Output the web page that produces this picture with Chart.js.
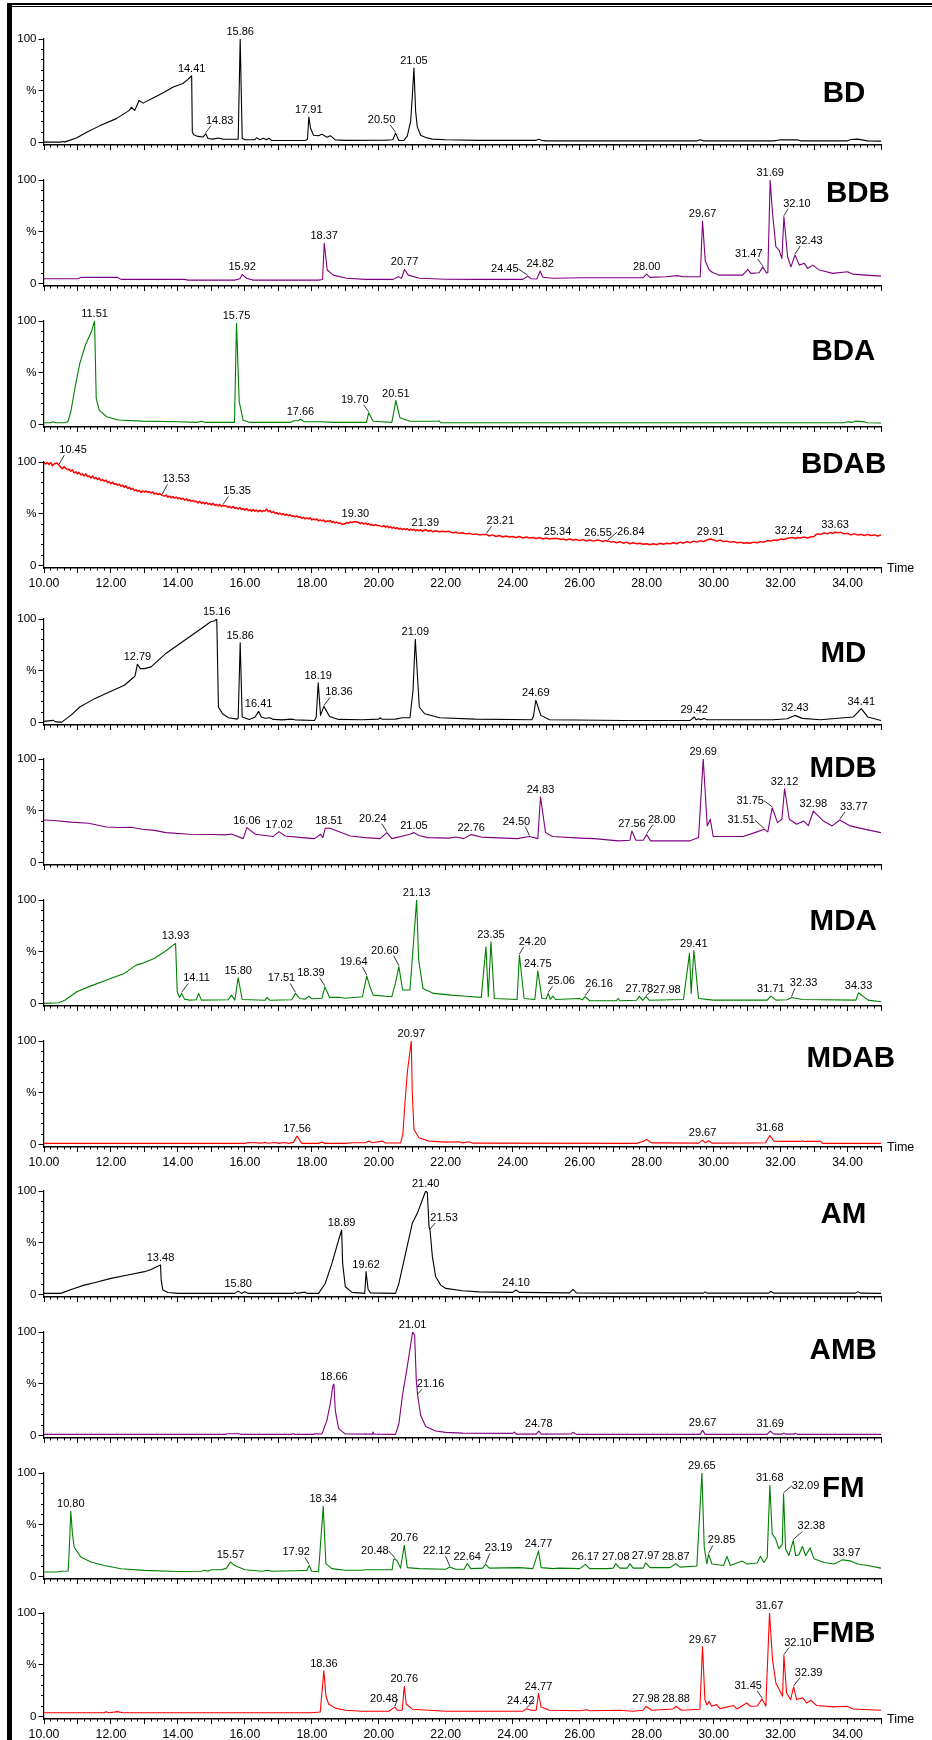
<!DOCTYPE html>
<html>
<head>
<meta charset="utf-8">
<script src="https://cdn.jsdelivr.net/npm/chart.js@4.4.1/dist/chart.umd.min.js"></script>
<style>
  body { margin: 0; background: #fff; width: 932px; height: 1740px; position: relative; overflow: hidden; }
  canvas { position: absolute; left: 0; }
  .rule { position: absolute; background: #000; }
</style>
</head>
<body>
<div class="rule" style="left:7px;top:3px;width:925px;height:2.2px"></div>
<div class="rule" style="left:11px;top:6.3px;width:921px;height:1.2px"></div>
<div class="rule" style="left:7px;top:3px;width:4.5px;height:1737px"></div>
<script>
'use strict';

/* Stacked chromatograms (BD ... FMB), one Chart.js line chart per trace. */

// ---------------------------------------------------------------- data
// [retention time (min), relative intensity (%)]; labelled peaks are kept apart
// and merged into their trace before plotting.
const BD_TRACE = [[10,0.3],[10.5,0.3],[10.55,1],[10.6,0.3],[10.67,1],[10.97,4.2],[11.29,10],[11.66,16],[12.16,23],[12.55,31],[12.61,34],[12.71,31],[12.84,40.6],[12.96,38],[13.26,43],[13.56,48],[13.86,53.5],[14.15,57],[14.3,61],
  [14.43,10],[14.47,7.4],[14.6,5.8],[14.75,5.2],[14.9,3.8],[15.05,3.2],[15.2,4.2],[15.35,3],[15.8,3],[15.92,4],[16,2.6],[16.3,2.6],[16.35,4.5],[16.45,2.6],[16.55,4],[16.65,2.6],[16.72,4],[16.8,2],[17.8,1.8],[17.87,3],
  [17.96,14],[18.05,7],[18.2,6.5],[18.3,8],[18.45,5],[18.55,6.5],[18.7,2.5],[19,2],[20.2,2.2],[20.42,2.6],[20.6,1.9],[20.75,1.9],[20.85,6],[20.95,20],[21,44],
  [21.1,30],[21.15,15],[21.25,7],[21.4,4.8],[21.6,3.2],[22,2.6],[23,2],[24.7,2],[24.78,3],[24.86,2],[25,1.5],[29.5,1.5],[29.6,2.5],[29.7,1.5],[31.8,1.5],[32,2.5],[32.5,2.5],[32.6,1.5],[34,1.5],[34.1,2.8],[34.3,3.2],[34.6,1.5],[35,1.2]];
const BD_PEAKS = [[14.41,64.5],[14.83,8.4],[15.86,100],[17.91,24.5],[20.50,9],[21.05,72]];

const BDB_TRACE = [[10,4.5],[11,4.5],[11.1,5.8],[12.2,5.8],[12.3,3.9],[14.2,3.9],[14.3,3.2],[15.7,3.2],[15.85,4.5],[16.05,5],[16.25,3.2],[18.2,3.2],[18.32,3.8],
  [18.46,13],[18.64,8],[19.04,5],[19.6,3.9],[20.43,3.9],[20.58,6.5],[20.68,5],[20.88,8],[21.22,5],[22,4],[23,3.9],[24.3,3.9],[24.55,4.5],[24.72,4.2],
  [24.9,6],[25.2,5],[26.1,5.5],[27.9,5.5],[28.1,5.8],[28.57,6.5],[28.92,7.5],[29.1,6.5],[29.6,6.5],[29.75,22],[29.87,13],[29.97,10.5],[30.17,8],[30.87,8],[31.02,13.5],[31.11,9.7],[31.36,10.3],
  [31.58,10],[31.62,10.5],[31.76,68],[31.86,35.5],[31.96,32],[32.04,24],[32.21,25.8],[32.31,16],[32.56,17.7],[32.71,19.4],[32.81,14.5],[32.96,17.7],[33.16,12.9],[33.56,9.7],[34,11.3],[34.15,9],[34.55,8],[35,7]];
const BDB_PEAKS = [[15.92,8.7],[18.37,38.7],[20.77,13.5],[24.45,7],[24.82,12],[28.00,9],[29.67,60],[31.47,16],[31.69,100],[32.10,64.5],[32.43,27.4]];

const BDA_TRACE = [[10,1.6],[10.2,1.6],[10.27,2.6],[10.35,1.6],[10.6,1.6],[10.71,2.6],[10.8,12],[10.94,38],[11.07,59],[11.24,77],[11.42,90],
  [11.56,25],[11.65,13.9],[11.87,7.4],[12.22,4.2],[12.93,3.2],[14,2.6],[14.6,2],[14.7,3],[14.8,2],[15.69,2],[15.83,22],[15.95,4],[16.13,2],[17.37,2],[17.46,3.5],[17.6,3.5],
  [17.75,3],[17.82,2.6],[18.26,2.6],[18.62,2],[19.63,2],[19.83,3],[20.39,2],[20.63,6.5],[20.93,3],[21.75,3],[21.8,3.5],[21.85,1.6],[33.9,1.6],[34,2.5],[34.15,2],[34.25,3.2],[34.5,2.5],[34.6,1.6],[35,1.3]];
const BDA_PEAKS = [[11.51,100],[15.75,97.7],[17.66,5.2],[19.70,11.3],[20.51,23]];

const BDAB_TRACE = [[10,100],[10.05,98],[10.1,99.5],[10.15,97.5],[10.2,99.5],[10.25,96.5],[10.3,98],[10.38,99],[10.5,95],[10.55,93.5],[10.6,95.5],[10.65,94],[10.7,92.5],[10.75,93],[10.8,91],[10.85,92.5],[10.9,89.5],[10.95,90.5],[11.0,88.5],[11.05,90],[11.1,87.5],[11.15,88.5],[11.2,86.5],[11.25,88.5],[11.3,86],[11.35,86.5],[11.4,84.5],[11.45,86.5],[11.5,84],[11.55,85],[11.6,83],[11.65,84.5],[11.7,82],[11.75,83],[11.8,81.5],[11.85,82.5],[11.9,80],[11.95,81],
  [12.0,79],[12.05,80.5],[12.1,78.5],[12.15,79],[12.2,77.5],[12.25,78.5],[12.3,76.5],[12.35,77.5],[12.4,75.5],[12.45,77],[12.5,74.5],[12.55,75.5],[12.6,73.5],[12.65,74.5],[12.7,72.5],[12.75,73],[12.8,71.5],[12.85,72.5],[12.9,70.5],[12.95,72],[13.0,71],[13.05,72],[13.1,70.5],[13.15,71.5],[13.2,70],[13.25,71],[13.3,69],[13.35,70],[13.4,68.5],[13.45,69.5],[13.6,67],[13.65,68],[13.7,66],[13.75,67],[13.8,65.5],[13.85,66.5],[13.9,65],[13.95,66],
  [14.0,64.5],[14.05,65.5],[14.1,64],[14.15,65],[14.2,63],[14.25,64.5],[14.3,62.5],[14.35,63.5],[14.4,62],[14.45,63],[14.5,61.5],[14.55,62],[14.6,60.5],[14.65,62],[14.7,60],[14.75,61],[14.8,59.5],[14.85,61],[14.9,59],[14.95,60],[15.0,58.5],[15.05,60],[15.1,58],[15.15,59],[15.2,57.5],[15.25,59],[15.3,57],[15.45,57.5],[15.5,56],[15.55,57],[15.6,55.5],[15.65,57],[15.7,55],[15.75,56],[15.8,54.5],[15.85,56],[15.9,54],[15.95,55],
  [16.0,53.5],[16.05,55],[16.1,53],[16.15,54],[16.2,52.5],[16.25,54],[16.3,52.5],[16.35,53.5],[16.4,52],[16.45,53.5],[16.5,52],[16.55,53],[16.6,52.5],[16.65,54.5],[16.7,52],[16.75,53],[16.8,51],[16.85,52],[16.9,50.5],[16.95,51],[17.0,49.5],[17.05,50.5],[17.1,49],[17.15,50],[17.2,48.5],[17.25,49.5],[17.3,48],[17.35,49],[17.4,47.5],[17.45,48],[17.5,47],[17.55,48],[17.6,46.5],[17.65,47],[17.7,45.5],[17.75,46.5],[17.8,45],[17.85,46],[17.9,45],[17.95,46],
  [18.0,44],[18.05,45],[18.1,44],[18.15,45],[18.2,43],[18.25,44],[18.3,43],[18.35,44],[18.4,42],[18.45,43],[18.5,42.5],[18.55,43.5],[18.6,41.5],[18.65,42.5],[18.7,41],[18.75,42],[18.8,40.5],[18.85,41],[18.9,39.5],[18.95,40],[19.0,40.5],[19.05,41.5],[19.1,41],[19.15,42],[19.2,41.5],[19.4,41.5],[19.45,40.5],[19.5,41.5],[19.55,40],[19.6,41],[19.65,39.5],[19.7,40.5],[19.75,39],[19.8,39.5],[19.85,38.5],[19.9,39.5],[19.95,38.5],
  [20.0,38.5],[20.1,37.5],[20.15,38.5],[20.2,37],[20.25,38],[20.3,36.5],[20.35,37.5],[20.4,36],[20.45,37],[20.5,35.5],[20.55,36.5],[20.6,35],[20.65,36],[20.7,34.5],[20.75,35.5],[20.8,34.5],[20.85,35.5],[20.9,34],[20.95,35],[21.0,34],[21.05,35],[21.1,33.5],[21.15,34.5],[21.2,33.5],[21.25,34.5],[21.3,33],[21.5,33],[21.55,34],[21.6,32.5],[21.7,33.5],[21.8,32.5],[21.9,33],[22.0,32.5],[22.1,33],[22.2,31.5],[22.3,32],[22.4,31],[22.5,31.5],[22.6,30.5],[22.7,31],[22.8,30],[22.9,30.5],[23.0,29.5],[23.1,30],
  [23.3,28.5],[23.4,29.5],[23.5,28],[23.6,29],[23.7,27.5],[23.8,28.5],[23.9,27.5],[24.0,28],[24.1,27],[24.2,28],[24.3,26.5],[24.4,27.5],[24.5,26.5],[24.6,27],[24.7,26],[24.8,27],[24.9,25.5],[25.0,26.5],[25.1,25.5],[25.2,26],[25.45,25],[25.5,25.5],[25.6,24.5],[25.7,25.5],[25.8,24.5],[25.9,25],[26.0,24],[26.1,25],[26.2,23.5],[26.3,24.5],[26.4,23.5],[26.7,23],[26.75,24],[26.95,22.5],[27.0,23],[27.1,22],[27.2,23],[27.3,21.5],[27.4,22.5],[27.5,21],[27.6,22],[27.7,21],[27.8,21.5],[27.9,20.5],
  [28.0,21],[28.1,20],[28.2,21],[28.3,20],[28.4,21.5],[28.5,20.5],[28.6,21.5],[28.7,21],[28.8,22],[28.9,21],[29.0,22.5],[29.1,21.5],[29.2,23],[29.3,22],[29.4,23.5],[29.5,22.5],[29.6,24],[29.7,23],[29.8,24.5],[30.0,24.5],[30.1,23.5],[30.2,24.5],[30.3,23],[30.4,23.5],[30.5,22.5],[30.6,23],[30.7,22],[30.8,22.5],[30.9,21.5],[31.0,22],[31.1,21.5],[31.2,22.5],[31.3,22],[31.4,23],[31.5,22.5],[31.6,24],[31.7,23.5],[31.8,24.5],[31.9,24],[32.0,25.5],[32.1,25],
  [32.35,27],[32.45,26],[32.5,27],[32.6,26.5],[32.7,27.5],[32.8,26.5],[32.9,27.5],[33.0,28],[33.05,29.5],[33.1,30.5],[33.2,30],[33.3,31.5],[33.4,30.5],[33.5,32],[33.55,31],[33.7,31.5],[33.8,32],[33.9,30.5],[34.0,31],[34.1,29.5],[34.2,30.5],[34.3,29.5],[34.4,30],[34.5,29],[34.6,30],[34.7,29],[34.8,29.5],[34.9,28.5],[35,29.5]];
const BDAB_PEAKS = [[10.45,97],[13.53,67.7],[15.35,58],[19.30,42.5],[21.39,34.5],[23.21,30],[25.34,26],[26.55,24.5],[26.84,23.5],[29.91,25.5],[32.24,26.5],[33.63,32]];

const MD_TRACE = [[10,1],[10.27,2],[10.35,0.5],[10.53,0.3],[10.8,6.8],[11.07,14.9],[11.51,23],[11.95,29.4],[12.4,35.9],[12.67,43.4],[12.72,45],
  [12.88,52],[13,52],[13.2,53.7],[13.64,66.7],[14,74.8],[14.35,82.8],[14.71,91],[14.98,97.4],[15.08,98],
  [15.21,14.9],[15.33,8.4],[15.51,4.5],[15.77,3.2],[15.8,4],[15.92,5.2],[16.13,2.9],[16.3,5],[16.49,5.2],[16.6,4],[16.75,4.5],[16.85,2.9],[17.1,2.5],[17.4,3.2],[17.5,2.5],[18.08,1.9],[18.13,5],
  [18.26,6.8],[18.53,5.8],[18.8,2.9],[19.5,2.6],[20,3.2],[20.04,4.5],[20.1,3],[20.5,3.2],[20.7,4.5],[20.93,4.5],[21.02,30],
  [21.21,14.9],[21.37,8.4],[21.82,4.5],[22.88,3.2],[24.57,2.6],[24.62,6],[24.84,6.8],[25.1,2.6],[27.32,1.9],[29.3,1.9],
  [29.48,2.5],[29.55,3.5],[29.62,2.6],[29.72,3.9],[29.8,2.6],[31.77,2.6],[32.2,3.5],[32.65,3.9],[33.19,2.6],[34.17,5.2],[34.61,5.2],[35,1.9]];
const MD_PEAKS = [[12.79,56.3],[15.16,100],[15.86,77],[16.41,10.7],[18.19,38.2],[18.36,15.5],[21.09,80.3],[24.69,21.4],[29.42,5.2],[32.43,6.8],[34.41,13.3]];

const MDB_TRACE = [[10,41],[10.3,40.5],[10.8,39],[11.33,37.8],[11.87,34.3],[12.22,33.7],[12.6,34],[12.93,32],[13.3,31],[13.64,28.8],[14.35,27.2],[15,27],[15.42,26.6],[15.6,27.5],[15.95,23],
  [16.31,27.2],[16.84,25],[17.2,25.6],[17.7,24],[18.08,23],[18.26,27.2],[18.33,24],[18.4,33],[18.62,32],[19.15,25.6],[19.6,24],[20.04,23],[20.39,23],[20.93,27.2],
  [21.2,26],[21.46,24],[22.1,23.5],[22.3,24.5],[22.53,23],[23.06,24.5],[23.4,24],[24.13,23],[24.75,23],[24.98,28.8],[25.19,25],[26,23.5],[26.44,23],[27.15,20.8],[27.5,21.5],
  [27.68,21.5],[27.9,21.5],[28.12,20.8],[29.28,20.8],[29.55,24],[29.81,35.3],[29.9,41.7],[29.99,25],[30.34,25],[30.88,25],[31.23,28.8],[31.62,29.5],[31.91,38.5],[32.04,41.7],
  [32.26,41.7],[32.48,36.9],[32.69,40],[32.83,35.5],[33.28,40],[33.54,35.3],[34.08,35.3],[34.43,32.7],[35,28.8]];
const MDB_PEAKS = [[16.06,33.7],[17.02,29.8],[18.51,33.3],[20.24,28.8],[21.05,28.8],[22.76,26.9],[24.50,25],[24.83,63.5],[27.56,30.4],[28.00,26.9],[29.69,100],[31.51,32],[31.75,52.9],[32.12,71.2],[32.98,49.7],[33.77,41]];

const MDA_TRACE = [[10,0],[10.44,0.6],[10.62,3],[10.98,11.3],[11.33,16],[11.87,22.6],[12.4,29],[12.75,37],[12.93,38.7],[13.29,43.5],[13.6,50],
  [13.98,11.3],[14.05,5.8],[14.2,4],[14.35,3.2],[14.55,3.5],[14.62,9.7],[14.7,3.2],[15.5,3.5],[15.6,8],[15.7,3.2],[15.92,3.8],[16.6,3],[16.66,5.8],[16.75,3],[17.4,3.5],
  [17.64,4.8],[17.8,4],[17.91,7],[18,4.5],[18.3,5],[18.53,5.8],[18.8,6],[19,5],[19.51,6.5],[19.72,17.7],[19.83,8],[20.39,6.5],[20.5,20],
  [20.71,13],[20.93,13],[21.02,51.6],[21.19,42],[21.32,14.5],[21.64,9.7],[22.17,8],[22.6,7],[23.06,5.8],[23.2,54.8],[23.27,6.5],[23.45,4.8],[24.13,3.8],
  [24.34,4.8],[24.66,3.8],[24.87,4.8],[25,4.5],[25.12,4],[25.2,7],[25.28,3.8],[25.99,4.8],[26.08,3.5],[26.3,2.6],[26.44,2.6],[27.1,2.6],[27.15,5],[27.2,2.6],[27.7,3],
  [27.88,3],[28.08,3],[29.1,3.8],[29.28,48.4],[29.33,9.7],[29.55,4.8],[29.99,3.2],[31.6,3.2],[31.86,3.2],[32.2,3.5],[32.65,3.8],[34.25,3.2],[34.61,3.2],[35,1.6]];
const MDA_PEAKS = [[13.93,58],[14.11,9.7],[15.80,24.8],[17.51,9.7],[18.39,16],[19.64,26.5],[20.60,35.5],[21.13,100],[23.35,59.7],[24.20,46.8],[24.75,31.6],[25.06,9.7],[26.16,6.5],[27.78,7],[27.98,6.5],[29.41,51],[31.71,7],[32.33,5.8],[34.33,10.3]];

const MDAB_TRACE = [[10,1],[16,1],[16.1,1.8],[16.5,1.2],[16.6,2],[16.7,1.2],[16.9,1.8],[17,1],[17.2,1.8],[17.3,1],[17.45,2],
  [17.7,1],[18.2,1],[18.3,2.2],[18.4,1],[19,1],[19.2,1.6],[19.6,1.6],[19.7,3.2],[19.8,1.6],[20.1,3.2],[20.2,1.4],[20.65,1.4],[20.72,10],[20.78,40],[20.86,72],
  [21,50],[21.05,14.4],[21.2,6.4],[21.5,3.2],[22,2.2],[22.4,2.6],[22.5,1.5],[22.7,2.6],[22.8,1.2],[27.7,1],[27.9,3],[28,4.8],[28.15,1.5],[29.55,1.2],
  [29.75,1.5],[29.85,3.5],[29.95,1.2],[31.3,1.4],[31.55,1.6],[31.8,3.2],[32,2.9],[32.6,2.9],[32.65,3.5],[32.7,2.9],[33.2,2.9],[33.25,1],[35,1]];
const MDAB_PEAKS = [[17.56,8],[20.97,100],[29.67,4.2],[31.68,8.7]];

const AM_TRACE = [[10,1],[10.5,1],[10.6,2.2],[10.9,5.8],[11.2,9],[11.5,11.3],[12,15.5],[12.5,18.7],[13,22],[13.2,24],[13.35,26.5],
  [13.5,13.9],[13.55,4.2],[13.7,1.9],[14,1],[15.7,1],[15.9,1],[16,2.5],[16.1,1],[17.45,1],[17.5,2.2],[17.55,1],[17.8,2.2],[17.85,1],[18.2,1],[18.4,10.6],[18.6,30],[18.8,52.6],
  [18.92,30],[19,7.4],[19.2,2],[19.58,1],[19.68,5],[19.75,1.5],[20.5,1],[20.6,10.6],[20.8,39.7],[21,68.7],[21.15,78.4],[21.3,91.3],
  [21.45,98.4],[21.5,65.5],[21.6,36.5],[21.7,17],[21.85,9],[22,5.8],[22.5,3.5],[23,2.5],[24,2],
  [24.2,2],[25.7,1.5],[25.8,4.8],[25.9,1.5],[27,1.2],[29.7,1.2],[29.75,2.5],[29.8,1.2],[31.65,1.2],[31.7,3],[31.8,1.2],[34.25,1.2],[34.3,2.5],[34.4,1.2],[35,1]];
const AM_PEAKS = [[13.48,28.4],[15.80,3.2],[18.89,62.3],[19.62,22],[21.40,100],[21.53,62.3],[24.10,4.2]];

const AMB_TRACE = [[10,1],[15.4,1],[15.5,1.6],[15.8,1.6],[15.9,1],[17.4,1],[17.45,1.6],[17.5,1],[18.05,1],[18.1,1.6],[18.3,1.3],[18.45,14.6],[18.55,30.7],[18.63,48.5],
  [18.7,24.3],[18.8,6.5],[19,1.3],[19.8,1.2],[19.82,3.2],[19.86,1.2],[20.5,1],[20.6,11.3],[20.7,37.2],[20.85,66.3],
  [21.07,97],[21.12,53.4],[21.25,19.4],[21.4,8.7],[21.7,4.2],[22,2.9],[22.5,2.2],[24,2],[24.05,3.2],[24.1,1.2],[24.7,1.2],
  [24.85,1.2],[25.75,1.5],[25.8,3],[25.9,1],[29.6,1],[29.75,1],[31.6,1],[31.8,1.2],[32.05,1.2],[32.1,2.2],[32.15,1.2],[32.4,1.2],[32.45,2],[32.5,1],[35,1]];
const AMB_PEAKS = [[18.66,49.5],[21.01,100],[21.16,38.8],[24.78,4.2],[29.67,4.9],[31.69,4.2]];

const FM_TRACE = [[10,4.2],[10.4,4.2],[10.5,5],[10.72,5.2],[10.75,22],
  [10.85,41],[10.9,28.4],[11.1,18.7],[11.4,13.9],[11.8,10.6],[12.3,7.4],[13,5.8],[14,4.8],[14.7,5],[14.8,6],[14.9,5],[15,6.5],[15.3,6.5],[15.45,8],
  [15.7,10.5],[16,6.5],[16.5,5],[16.7,6],[16.8,5],[17.5,5.5],[17.85,5.8],[18,5],[18.2,4.5],
  [18.42,12.3],[18.6,7.5],[19,6],[19.5,6],[19.6,6.5],[20,6.5],[20.4,6.5],[20.44,16],[20.55,15],[20.65,8],
  [20.85,8.5],[21.2,7.5],[22,7],[22.3,7],[22.55,7],[22.75,7.5],[23.1,8],[23.3,8],[24.2,8.5],[24.6,7.5],
  [24.85,8.5],[25.2,7.5],[25.4,8],[26,7.5],[26.3,7.5],[26.8,7.5],[27,8],[27.2,8],[27.42,8],[27.5,12.3],[27.6,8],[27.9,8],
  [28.1,8.5],[28.7,8.5],[29,9],[29.5,10],[29.72,28.4],[29.8,12],[29.95,12],[30.3,10.5],[30.4,19.4],[30.5,10.5],[30.85,14.8],[31,12],[31.3,13],[31.4,19.4],[31.5,13.5],[31.6,18],
  [31.75,41],[31.85,36.5],[31.95,26.8],[32.05,31],[32.15,26.8],[32.25,20.3],
  [32.45,20],[32.55,21],[32.65,29],[32.75,20],[32.88,27.7],[33,17],[33.3,13.5],[33.6,12],[33.85,16],[34.1,14.8],[34.3,12],[34.6,10.5],[35,8]];
const FM_PEAKS = [[10.80,63],[15.57,13.9],[17.92,10.6],[18.34,67.7],[20.48,17],[20.76,30],[22.12,9],[22.64,12.3],[23.19,11.6],[24.77,24.5],[26.17,11.6],[27.08,12.3],[27.97,13],[28.87,12.3],[29.65,100],[29.85,21.3],[31.68,88],[32.09,80],[32.38,34.8],[33.97,15.5]];

const FMB_TRACE = [[10,3.6],[11.8,3.6],[11.85,4.6],[11.95,3.6],[12.2,4.6],[12.35,3.6],[18,3.6],[18.25,4.2],
  [18.42,20],[18.5,12],[18.7,8],[19,6],[19.5,5],[20.3,5],[20.55,6],[20.7,6],
  [20.82,12],[21,7],[21.5,6],[22,5],[23,5],[24.3,5],[24.55,6],[24.7,6],
  [24.85,9],[25.1,6],[26,5.5],[26.2,6.5],[26.3,5.5],[27.2,5.9],[27.6,5],[27.9,6],[28.15,5.9],[28.79,7.2],[29.04,6],[29.59,7],
  [29.74,16.3],[29.8,11],[29.87,14.6],[29.94,9.8],[30.09,11.4],[30.19,7.5],[30.59,10.5],[30.7,7.2],[30.99,13],[31.1,9.8],[31.3,10],
  [31.56,9.8],[31.76,55],[31.86,32.4],[31.96,26],[32.06,19.5],[32.18,22.7],[32.3,16.3],
  [32.48,16.3],[32.66,17.9],[32.78,13],[32.9,15.6],[33.08,10.5],[33.57,9.2],[33.98,9.8],[34.17,7.2],[35,5.9]];
const FMB_PEAKS = [[18.36,44],[20.48,9],[20.76,29],[24.42,7.5],[24.77,22],[27.98,9.8],[28.88,9.8],[29.67,67.2],[31.45,16.9],[31.67,100],[32.10,58.9],[32.39,28.5]];

const TIME_RANGE = [10, 35];
const Y_TICKS = [0, 50, 100];
const Y_TICK_TEXT = ['0', '%', '100'];
const Y_MINOR_STEP = 10;

// ---------------------------------------------------------------- layout
const BLACK = '#000000', PURPLE = '#800080', GREEN = '#008000', RED = '#ff0000';
const FONT = '"Liberation Sans", Arial, sans-serif';
const PAD_TOP = 30, PLOT_H = 106, CANVAS_H = 172;

// top = y of the 100 line, title = [left, baseline], leaders = label offsets [dx, dy]
const PANELS = [
  { name: 'BD', trace: BD_TRACE, peaks: BD_PEAKS, color: BLACK, top: 39, title: [822.7, 101.7],
    leaders: { '14.83': [14, -6], '20.50': [-14, -6] } },
  { name: 'BDB', trace: BDB_TRACE, peaks: BDB_PEAKS, color: PURPLE, top: 180, title: [826, 201.7],
    leaders: { '24.45': [-23, 0], '31.47': [-14, -6], '32.10': [13, -6], '32.43': [14, -7] } },
  { name: 'BDA', trace: BDA_TRACE, peaks: BDA_PEAKS, color: GREEN, top: 321, title: [811.4, 360],
    leaders: { '19.70': [-14, -6] } },
  { name: 'BDAB', trace: BDAB_TRACE, peaks: BDAB_PEAKS, color: RED, top: 462, title: [801, 473.3], time: true, width: 1.5,
    leaders: { '10.45': [14, -8], '13.53': [14, -9], '15.35': [14, -7], '23.21': [14, -6], '26.84': [23, -2] } },
  { name: 'MD', trace: MD_TRACE, peaks: MD_PEAKS, color: BLACK, top: 619, title: [820.4, 661.7],
    leaders: { '18.36': [15, -7] } },
  { name: 'MDB', trace: MDB_TRACE, peaks: MDB_PEAKS, color: PURPLE, top: 759, title: [809.6, 777.3],
    leaders: { '20.24': [-14, -7], '24.50': [-13, -8], '28.00': [15, -8], '31.51': [-23, -2], '31.75': [-22, 0], '33.77': [14, -6] } },
  { name: 'MDA', trace: MDA_TRACE, peaks: MDA_PEAKS, color: GREEN, top: 900, title: [809.6, 930],
    leaders: { '14.11': [15, -8], '17.51': [-14, -8], '18.39': [-14, -7], '19.64': [-13, -7], '20.60': [-14, -9],
               '24.20': [13, -6], '25.06': [13, -5], '26.16': [14, -6], '27.98': [21, 0], '32.33': [12, -7] } },
  { name: 'MDAB', trace: MDAB_TRACE, peaks: MDAB_PEAKS, color: RED, top: 1041, title: [806.6, 1067.3], time: true,
    leaders: {} },
  { name: 'AM', trace: AM_TRACE, peaks: AM_PEAKS, color: BLACK, top: 1191, title: [820.4, 1223.3],
    leaders: { '21.53': [14, -5] } },
  { name: 'AMB', trace: AMB_TRACE, peaks: AMB_PEAKS, color: PURPLE, top: 1332, title: [809.6, 1359.3],
    leaders: { '21.16': [13, -4] } },
  { name: 'FM', trace: FM_TRACE, peaks: FM_PEAKS, color: GREEN, top: 1473, title: [822, 1496.7],
    leaders: { '17.92': [-13, -6], '20.48': [-20, -1], '22.12': [-13, -9], '23.19': [13, -9], '29.85': [13, -7], '32.09': [22, -1], '32.38': [18, -7] } },
  { name: 'FMB', trace: FMB_TRACE, peaks: FMB_PEAKS, color: RED, top: 1613, title: [811.7, 1641.7], time: true,
    leaders: { '20.48': [-11, -1], '24.42': [-6, -1], '31.45': [-14, -6], '32.10': [14, -6], '32.39': [15, -7] } },
];

// ---------------------------------------------------------------- drawing helpers
function annotations(p, canvasTop) {
  return {
    id: 'annot_' + p.name,
    afterDatasetsDraw(chart) {
      const { ctx, chartArea } = chart;
      const x = chart.scales.x, y = chart.scales.y;
      ctx.save();
      ctx.fillStyle = '#000'; ctx.strokeStyle = '#000'; ctx.lineWidth = 0.8;
      ctx.font = '11px ' + FONT;
      ctx.textAlign = 'center'; ctx.textBaseline = 'alphabetic';
      p.peaks.forEach(([t, v]) => {
        const txt = t.toFixed(2);
        const px = x.getPixelForValue(t), py = y.getPixelForValue(v);
        const [dx, dy] = p.leaders[txt] || [0, 0];
        const lx = px + dx, ly = py - 4 + dy;
        ctx.fillText(txt, lx, ly);
        if (dx || dy) {
          const w = ctx.measureText(txt).width;
          const flat = Math.abs(dy) < 3;
          const inset = flat ? 0 : 5;
          const ex = dx > 0 ? lx - w / 2 + inset : dx < 0 ? lx + w / 2 - inset : lx;
          const ey = flat ? ly - 3 : ly + 2;
          if (Math.abs(ex - px) > 2) { ctx.beginPath(); ctx.moveTo(px, py - 1); ctx.lineTo(ex, ey); ctx.stroke(); }
        }
      });
      ctx.textAlign = 'left';
      ctx.font = 'bold 29.5px ' + FONT;
      ctx.fillText(p.name, p.title[0], p.title[1] - canvasTop);
      if (p.time) {
        ctx.font = '12.5px ' + FONT;
        ctx.textBaseline = 'middle';
        ctx.fillText('Time', chartArea.right + 6, chartArea.bottom + 1);
      }
      ctx.restore();
    },
  };
}

function minorYTicks() {
  const out = [];
  for (let v = Y_TICKS[0]; v <= Y_TICKS[Y_TICKS.length - 1]; v += Y_MINOR_STEP) out.push({ value: v });
  return out;
}

function panelChart(p) {
  const canvasTop = p.top - PAD_TOP;
  const cv = document.createElement('canvas');
  cv.width = 932; cv.height = CANVAS_H;
  cv.style.top = canvasTop + 'px';
  document.body.appendChild(cv);

  const xHeight = p.time ? 24 : 6;
  const pts = [...p.trace, ...p.peaks].sort((a, b) => a[0] - b[0]).map(([t, v]) => ({ x: t, y: v }));

  return new Chart(cv, {
    type: 'line',
    data: {
      datasets: [{
        data: pts, borderColor: p.color, borderWidth: p.width || 1.1,
        pointRadius: 0, tension: 0, borderJoinStyle: 'round', fill: false,
        xAxisID: 'x', yAxisID: 'y',
      }],
    },
    options: {
      responsive: false, animation: false, devicePixelRatio: 1,
      layout: { padding: { top: PAD_TOP, right: 51, left: 0, bottom: CANVAS_H - PAD_TOP - PLOT_H - xHeight } },
      plugins: { legend: { display: false }, tooltip: { enabled: false } },
      scales: {
        x: {
          type: 'linear', position: 'bottom', weight: 1, min: TIME_RANGE[0], max: TIME_RANGE[1],
          grid: { drawOnChartArea: false, tickLength: 5, tickColor: '#000', tickWidth: 1 },
          border: { color: '#000', width: 1.5 },
          ticks: {
            stepSize: 1, autoSkip: false, maxRotation: 0, maxTicksLimit: 1000, display: !!p.time,
            color: '#000', padding: 3, font: { family: FONT, size: 12.3 },
            callback: (v) => (v % 2 === 0 && v < TIME_RANGE[1] ? v.toFixed(2) : ''),
          },
          afterFit: (s) => { s.height = xHeight; },
        },
        xm: {
          type: 'linear', position: 'bottom', weight: 0, min: TIME_RANGE[0], max: TIME_RANGE[1],
          grid: { drawOnChartArea: false, tickLength: 2.5, tickColor: '#000', tickWidth: 1 },
          border: { display: false },
          ticks: { stepSize: 0.2, autoSkip: false, maxTicksLimit: 1000, display: false },
          afterFit: (s) => { s.height = 0; },
        },
        y: {
          type: 'linear', position: 'left', weight: 1, min: -2.5, max: 100,
          grid: { drawOnChartArea: false, tickLength: 5.5, tickWidth: 1, tickColor: '#000' },
          border: { color: '#000', width: 1.2 },
          afterBuildTicks: (s) => { s.ticks = Y_TICKS.map((v) => ({ value: v })); },
          ticks: {
            autoSkip: false, color: '#000', padding: 2, font: { family: FONT, size: 11.5 },
            callback: (v) => { const i = Y_TICKS.indexOf(v); return i < 0 ? '' : Y_TICK_TEXT[i]; },
          },
          afterFit: (s) => { s.width = 44; },
        },
        ym: {
          type: 'linear', position: 'left', weight: 0, min: -2.5, max: 100,
          grid: { drawOnChartArea: false, tickLength: 3, tickWidth: 1, tickColor: '#000' },
          border: { display: false },
          afterBuildTicks: (s) => { s.ticks = minorYTicks(); },
          ticks: { autoSkip: false, display: false },
          afterFit: (s) => { s.width = 0; },
        },
      },
    },
    plugins: [annotations(p, canvasTop)],
  });
}

// ---------------------------------------------------------------- boot
Chart.defaults.font.family = FONT;
PANELS.forEach(panelChart);
</script>
</body>
</html>
